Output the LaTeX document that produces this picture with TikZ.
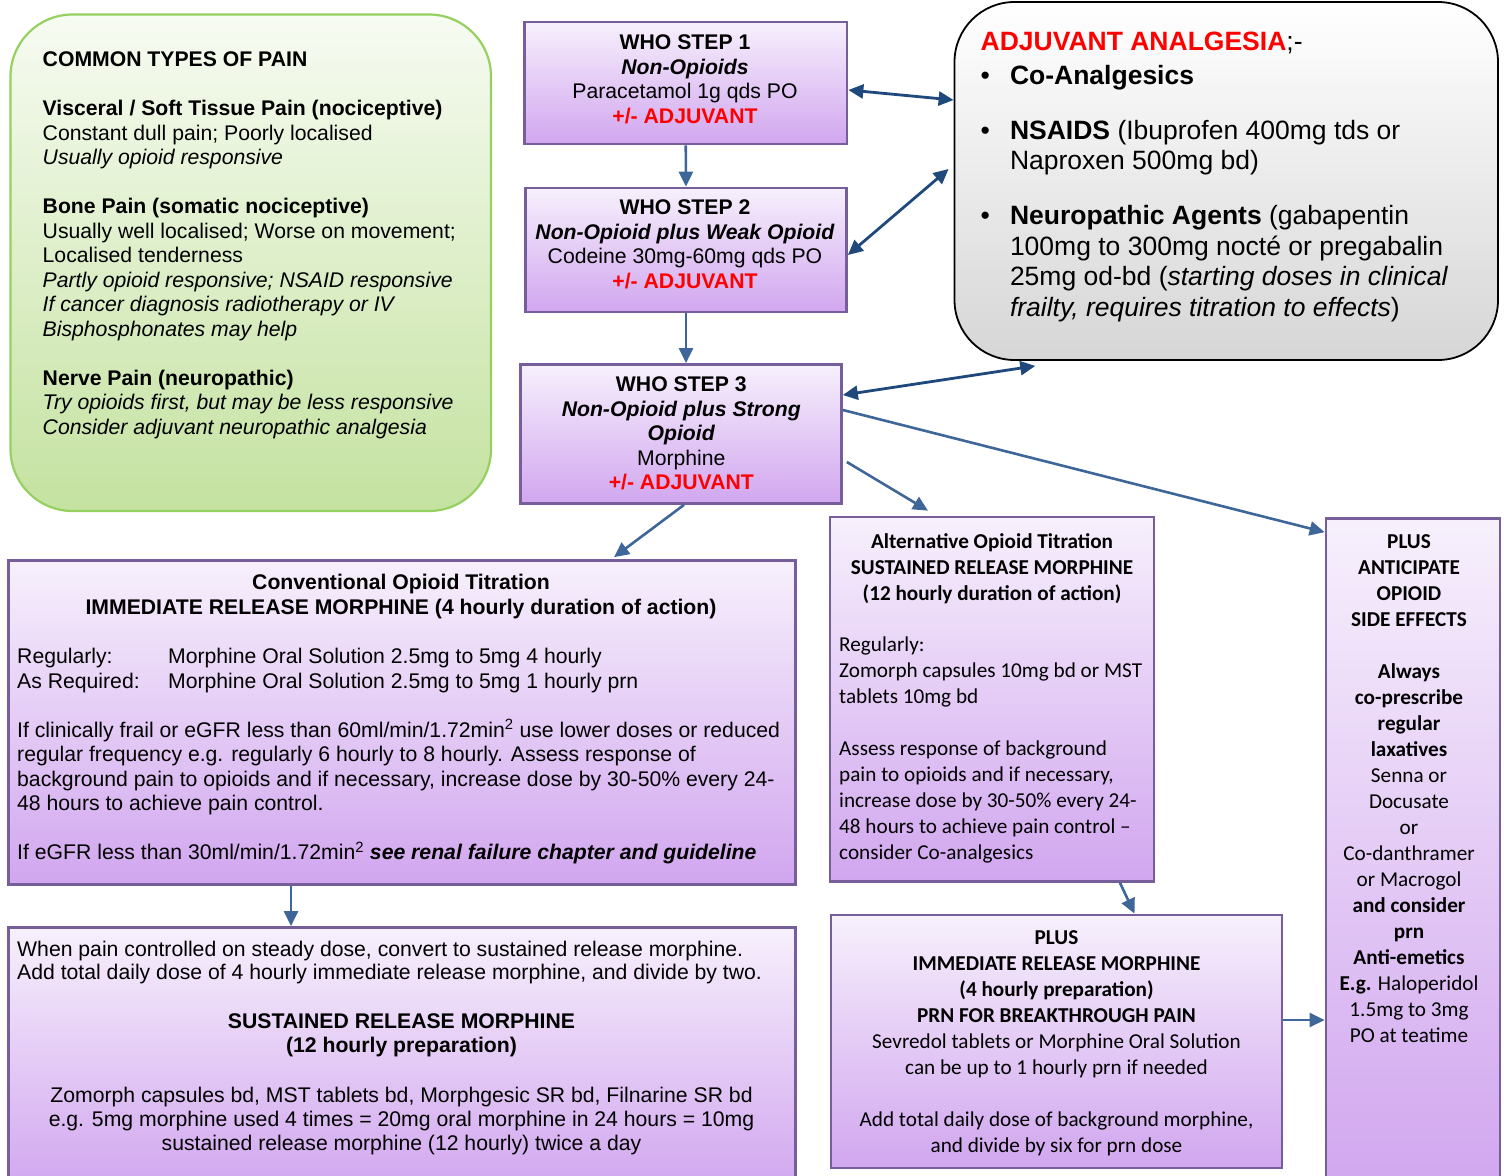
\documentclass[tikz,border=0pt]{standalone}
\usepackage{fontspec}
\setmainfont{Liberation Sans}
\newfontfamily\calfont{Carlito}
\usetikzlibrary{arrows.meta}
\definecolor{purptop}{RGB}{247,240,252}
\definecolor{purpbot}{RGB}{209,166,239}
\definecolor{purpline}{RGB}{118,94,154}
\definecolor{greentop}{RGB}{247,251,242}
\definecolor{greenbot}{RGB}{196,226,160}
\definecolor{greenline}{RGB}{150,208,96}
\definecolor{greybot}{RGB}{214,214,214}
\definecolor{arrowblue}{RGB}{62,102,152}
\definecolor{arrowdark}{RGB}{31,73,125}
\definecolor{adjred}{RGB}{255,0,0}
\begin{document}
\begin{tikzpicture}[x=1pt,y=-1pt,>={Triangle[length=15pt,width=14pt]}]
	\tikzstyle{purplebox}=[rectangle,draw=purpline,line width=2.7pt,top color=purptop,bottom color=purpbot,inner sep=0pt]
	\tikzstyle{painbox}=[rectangle,rounded corners=62pt,draw=greenline,line width=2.2pt,top color=greentop,bottom color=greenbot,inner sep=0pt]
	\tikzstyle{adjbox}=[rectangle,rounded corners=60pt,draw=black,line width=1.8pt,top color=white,bottom color=greybot,inner sep=0pt]
	\tikzstyle{arial}=[inner sep=0pt,font=\fontsize{21.2}{24.5}\selectfont]
	\tikzstyle{calib}=[inner sep=0pt,font=\calfont\fontsize{21.2}{26}\selectfont]
	\tikzstyle{edge}=[->,draw=arrowblue,line width=2.6pt]
	\tikzstyle{twoway}=[<->,draw=arrowdark,line width=2.8pt]

	\useasboundingbox (0,0) rectangle (1504,1175);
	\clip (0,0) rectangle (1504,1175);

	% boxes
	\node [painbox,minimum width=480.5pt,minimum height=496.5pt] (pain) at (250.75,262.75) {};
	\node [purplebox,minimum width=322.5pt,minimum height=122pt] (step1) at (685.75,83) {};
	\node [purplebox,minimum width=321pt,minimum height=124pt] (step2) at (686,250) {};
	\node [purplebox,minimum width=321pt,minimum height=139pt] (step3) at (681,434) {};
	\node [adjbox,minimum width=543.5pt,minimum height=358pt] (adj) at (1226.25,181) {};
	\node [purplebox,minimum width=787pt,minimum height=324pt] (conv) at (402,722.5) {};
	\node [purplebox,minimum width=787pt,minimum height=262.5pt] (bl) at (402,1058.75) {};
	\node [purplebox,minimum width=324pt,minimum height=364.5pt] (alt) at (992,699.25) {};
	\node [purplebox,minimum width=451pt,minimum height=253pt] (plusir) at (1056.5,1041.5) {};
	\node [purplebox,minimum width=174pt,minimum height=671.5pt] (side) at (1413,854.25) {};

	% texts
	\node [arial,anchor=north west,align=left] (paintext) at (42.5,51.5) {\textbf{COMMON TYPES OF PAIN}\\[24.5pt]
		\textbf{Visceral / Soft Tissue Pain (nociceptive)}\\
		Constant dull pain; Poorly localised\\
		\textit{Usually opioid responsive}\\[24.5pt]
		\textbf{Bone Pain (somatic nociceptive)}\\
		Usually well localised; Worse on movement;\\
		Localised tenderness\\
		\textit{Partly opioid responsive; NSAID responsive}\\
		\textit{If cancer diagnosis radiotherapy or IV}\\
		\textit{Bisphosphonates may help}\\[24.5pt]
		\textbf{Nerve Pain (neuropathic)}\\
		\textit{Try opioids first, but may be less responsive}\\
		\textit{Consider adjuvant neuropathic analgesia}};

	\node [arial,anchor=north,align=center] (step1text) at (685,34.8) {\textbf{WHO STEP 1}\\ \textbf{\textit{Non-Opioids}}\\ Paracetamol 1g qds PO\\ \textcolor{adjred}{\textbf{+/- ADJUVANT}}};
	\node [arial,anchor=north,align=center] (step2text) at (685,199.8) {\textbf{WHO STEP 2}\\ \textbf{\textit{Non-Opioid plus Weak Opioid}}\\ Codeine 30mg-60mg qds PO\\ \textcolor{adjred}{\textbf{+/- ADJUVANT}}};
	\node [arial,anchor=north,align=center] (step3text) at (681.3,376.8) {\textbf{WHO STEP 3}\\ \textbf{\textit{Non-Opioid plus Strong}}\\ \textbf{\textit{Opioid}}\\ Morphine\\ \textcolor{adjred}{\textbf{+/- ADJUVANT}}};

	\node [anchor=north west,align=left,inner sep=0pt,font=\fontsize{26.5}{30.7}\selectfont] (adjtext) at (980.5,32) {\textcolor{adjred}{\textbf{ADJUVANT ANALGESIA}};-\\[3pt]
		\makebox[29.3pt][l]{\textbullet}\textbf{Co-Analgesics}\\[24pt]
		\makebox[29.3pt][l]{\textbullet}\textbf{NSAIDS} (Ibuprofen 400mg tds or\\
		\hspace*{29.3pt}Naproxen 500mg bd)\\[24pt]
		\makebox[29.3pt][l]{\textbullet}\textbf{Neuropathic Agents} (gabapentin\\
		\hspace*{29.3pt}100mg to 300mg nocté or pregabalin\\
		\hspace*{29.3pt}25mg od-bd (\textit{starting doses in clinical}\\
		\hspace*{29.3pt}\textit{frailty, requires titration to effects})};

	\node [arial,anchor=north,align=center] (convtitle) at (401,574.1) {\textbf{Conventional Opioid Titration}\\ \textbf{IMMEDIATE RELEASE MORPHINE (4 hourly duration of action)}};
	\node [arial,anchor=north west,align=left] (convtext) at (17,648.1) {\makebox[151pt][l]{Regularly:}Morphine Oral Solution 2.5mg to 5mg 4 hourly\\
		\makebox[151pt][l]{As Required:}Morphine Oral Solution 2.5mg to 5mg 1 hourly prn\\[24.5pt]
		If clinically frail or eGFR less than 60ml/min/1.72min\textsuperscript{2} use lower doses or reduced\\
		regular frequency e.g. regularly 6 hourly to 8 hourly. Assess response of\\
		background pain to opioids and if necessary, increase dose by 30-50\% every 24-\\
		48 hours to achieve pain control.\\[24.5pt]
		If eGFR less than 30ml/min/1.72min\textsuperscript{2} \textbf{\textit{see renal failure chapter and guideline}}};

	\node [arial,anchor=north west,align=left,font=\fontsize{21.2}{23.5}\selectfont] (bltext) at (17,940.5) {When pain controlled on steady dose, convert to sustained release morphine.\\
		Add total daily dose of 4 hourly immediate release morphine, and divide by two.};
	\node [arial,anchor=north,align=center,font=\fontsize{21.2}{24}\selectfont] (srtext) at (401.5,1013.6) {\textbf{SUSTAINED RELEASE MORPHINE}\\ \textbf{(12 hourly preparation)}\\[26pt]
		Zomorph capsules bd, MST tablets bd, Morphgesic SR bd, Filnarine SR bd\\
		e.g. 5mg morphine used 4 times = 20mg oral morphine in 24 hours = 10mg\\
		sustained release morphine (12 hourly) twice a day};

	\node [calib,anchor=north,align=center] (alttitle) at (992,533) {\textbf{Alternative Opioid Titration}\\ \textbf{SUSTAINED RELEASE MORPHINE}\\ \textbf{(12 hourly duration of action)}};
	\node [calib,anchor=north west,align=left] (alttext) at (839,636.5) {Regularly:\\
		Zomorph capsules 10mg bd or MST\\
		tablets 10mg bd\\[26pt]
		Assess response of background\\
		pain to opioids and if necessary,\\
		increase dose by 30-50\% every 24-\\
		48 hours to achieve pain control –\\
		consider Co-analgesics};

	\node [calib,anchor=north,align=center] (plustext) at (1056.5,930) {\textbf{PLUS}\\ \textbf{IMMEDIATE RELEASE MORPHINE}\\ \textbf{(4 hourly preparation)}\\ \textbf{PRN FOR BREAKTHROUGH PAIN}\\
		Sevredol tablets or Morphine Oral Solution\\
		can be up to 1 hourly prn if needed\\[26pt]
		Add total daily dose of background morphine,\\
		and divide by six for prn dose};

	\node [calib,anchor=north,align=center] (sidetext) at (1409,534) {\textbf{PLUS}\\ \textbf{ANTICIPATE}\\ \textbf{OPIOID}\\ \textbf{SIDE EFFECTS}\\[26pt]
		\textbf{Always}\\ \textbf{co-prescribe}\\ \textbf{regular}\\ \textbf{laxatives}\\
		Senna or\\ Docusate\\ or\\ Co-danthramer\\ or Macrogol\\
		\textbf{and consider}\\ \textbf{prn}\\ \textbf{Anti-emetics}\\
		\textbf{E.g.} Haloperidol\\ 1.5mg to 3mg\\ PO at teatime};

	% connectors
	\draw [edge] (step1.south) -- (step2.north);
	\draw [edge] (step2.south) -- (step2.south |- step3.north);
	\draw [twoway] ([yshift=-7pt]step1.east) -- ([yshift=81pt]adj.west);
	\draw [twoway] ([yshift=-5pt]step2.east) -- ([xshift=-5pt,yshift=12pt]adj.west);
	\draw [twoway] ([yshift=39pt]step3.east) -- ([xshift=-191pt,yshift=-5pt]adj.south);
	\draw [edge] ([yshift=24pt]step3.east) -- ([yshift=-15pt]side.north west);
	\draw [edge] ([xshift=4pt,yshift=-28pt]step3.east) -- ([xshift=-64pt,yshift=5pt]alt.north);
	\draw [edge] ([xshift=3pt]step3.south) -- ([xshift=212pt,yshift=2pt]conv.north);
	\draw [edge] ([xshift=-111pt]conv.south) -- ([xshift=-111pt]bl.north);
	\draw [edge] ([xshift=128pt]alt.south) -- ([xshift=78pt]plusir.north);
	\draw [edge] ([yshift=21.5pt]plusir.east) -- ([yshift=21.5pt]plusir.east -| side.west);
\end{tikzpicture}
\end{document}
